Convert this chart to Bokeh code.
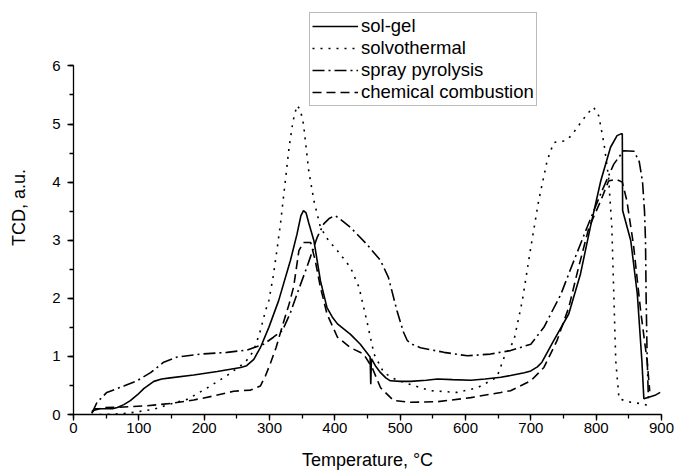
from bokeh.plotting import figure
from bokeh.models import Range1d, SingleIntervalTicker, Legend, LegendItem
from bokeh.embed import file_html
from bokeh.resources import INLINE

# ---- data ----
solgel_x = [28, 33, 46, 60, 67, 77, 87, 98, 108, 123, 135, 148, 184, 220, 256, 265, 276, 286, 299,
            314, 332, 342, 348, 352, 356, 360, 368, 378, 388, 396, 404, 424, 439, 454, 455, 456,
            462, 470, 478, 485, 500, 516, 540, 557, 580, 608, 630, 654, 669, 690, 700, 710, 717,
            735, 758, 776, 791, 807, 822, 832, 838, 840, 840.5, 853, 863, 870, 873, 878, 890, 898]
solgel_y = [0.03, 0.10, 0.10, 0.10, 0.12, 0.17, 0.24, 0.34, 0.45, 0.57, 0.61, 0.63, 0.68, 0.74, 0.81,
            0.84, 0.95, 1.15, 1.50, 1.96, 2.65, 3.10, 3.42, 3.51, 3.47, 3.30, 2.99, 2.30, 1.84, 1.68,
            1.56, 1.38, 1.21, 0.99, 0.52, 0.96, 0.84, 0.72, 0.63, 0.58, 0.57, 0.57, 0.59, 0.61, 0.60,
            0.59, 0.61, 0.64, 0.67, 0.72, 0.75, 0.82, 0.90, 1.27, 1.73, 2.42, 3.22, 4.02, 4.60, 4.80,
            4.83, 4.83, 3.51, 2.99, 2.07, 0.92, 0.27, 0.29, 0.33, 0.38]

solvo_x = [40, 50, 82, 123, 148, 174, 205, 235, 263, 276, 286, 294, 299, 306, 312, 317, 322, 330,
           336, 342, 347, 352, 356, 360, 368, 378, 390, 404, 424, 437, 449, 460, 475, 490, 506, 546,
           587, 618, 648, 659, 674, 687, 700, 712, 725, 735, 744, 753, 762, 771, 786, 796, 804, 812,
           819, 824, 827, 830, 835, 853, 873, 880]
solvo_y = [0.0, 0.0, 0.02, 0.09, 0.18, 0.26, 0.46, 0.67, 0.90, 1.10, 1.44, 1.79, 1.96, 2.40, 2.88,
           3.30, 3.80, 4.60, 5.05, 5.32, 5.25, 5.00, 4.60, 4.20, 3.68, 3.22, 3.00, 2.82, 2.53, 2.19,
           1.61, 1.04, 0.72, 0.62, 0.55, 0.41, 0.38, 0.46, 0.64, 0.98, 1.27, 1.96, 2.88, 3.68, 4.37,
           4.68, 4.70, 4.71, 4.80, 4.94, 5.17, 5.29, 5.14, 4.66, 4.08, 3.22, 2.07, 0.92, 0.27, 0.21,
           0.18, 0.15]

spray_x = [28, 36, 51, 77, 97, 118, 138, 159, 194, 235, 266, 291, 306, 319, 322, 332, 342, 357, 373,
           383, 392, 401, 412, 424, 449, 470, 482, 495, 505, 511, 520, 531, 567, 603, 638, 669, 700,
           720, 746, 766, 786, 807, 827, 842, 858, 866, 871, 874, 875.5, 876.5, 878, 880]
spray_y = [0.02, 0.21, 0.38, 0.49, 0.58, 0.72, 0.90, 0.99, 1.04, 1.07, 1.11, 1.21, 1.33, 1.44, 1.50,
           1.75, 2.07, 2.53, 3.05, 3.28, 3.38, 3.42, 3.33, 3.22, 2.93, 2.65, 2.36, 1.79, 1.42, 1.27,
           1.20, 1.15, 1.07, 1.01, 1.04, 1.10, 1.21, 1.50, 2.07, 2.65, 3.22, 3.80, 4.31, 4.54, 4.53,
           4.35, 4.00, 3.50, 3.00, 2.00, 1.00, 0.25]

comb_x = [28, 46, 77, 113, 148, 184, 215, 245, 271, 286, 294, 302, 310, 322, 330, 337, 345, 352, 363,
          370, 378, 388, 404, 424, 444, 457, 470, 490, 516, 557, 608, 654, 669, 700, 720, 740, 758,
          773, 789, 807, 819, 830, 840, 847, 857, 868, 878, 882]
comb_y = [0.06, 0.12, 0.13, 0.15, 0.19, 0.25, 0.32, 0.40, 0.42, 0.49, 0.67, 0.90, 1.15, 1.61, 1.90,
          2.20, 2.82, 2.96, 2.96, 2.65, 2.19, 1.73, 1.33, 1.15, 1.04, 0.81, 0.46, 0.24, 0.21, 0.22,
          0.29, 0.38, 0.41, 0.58, 0.81, 1.27, 1.84, 2.53, 3.22, 3.68, 4.02, 4.05, 4.00, 3.68, 2.93,
          1.79, 0.92, 0.40]

labels = ["sol-gel", "solvothermal", "spray pyrolysis", "chemical combustion"]
dashes = ["solid", "2 6", "12 4 2 4", "9 5"]

FONT = "Liberation Sans"

p = figure(width=678, height=476, output_backend="svg", toolbar_location=None,
           x_range=Range1d(0, 900), y_range=Range1d(0, 7.126),
           min_border_left=73, min_border_right=17, min_border_top=0, min_border_bottom=62)
p.outline_line_color = None
p.grid.visible = False
p.background_fill_color = "white"
p.border_fill_color = "white"

series = [(solgel_x, solgel_y), (solvo_x, solvo_y), (spray_x, spray_y), (comb_x, comb_y)]
items = []
for (xs, ys), lab, d in zip(series, labels, dashes):
    r = p.line(xs, ys, line_color="black", line_width=1.6, line_dash=d)
    items.append(LegendItem(label=lab, renderers=[r]))

p.xaxis.ticker = SingleIntervalTicker(interval=100, num_minor_ticks=2)
p.yaxis.ticker = SingleIntervalTicker(interval=1, num_minor_ticks=2)
p.yaxis.bounds = (0, 6)

for ax in (p.xaxis[0], p.yaxis[0]):
    ax.axis_line_color = "black"
    ax.axis_line_width = 1.3
    ax.major_tick_line_color = "black"
    ax.minor_tick_line_color = "black"
    ax.major_tick_line_width = 1.3
    ax.minor_tick_line_width = 1.3
    ax.major_tick_in = 0
    ax.major_tick_out = 6
    ax.minor_tick_in = 0
    ax.minor_tick_out = 4
    ax.major_label_text_font = FONT
    ax.major_label_text_font_size = "15px"
    ax.major_label_text_color = "black"
    ax.axis_label_text_font = FONT
    ax.axis_label_text_font_size = "18px"
    ax.axis_label_text_font_style = "normal"
    ax.axis_label_text_color = "black"

p.xaxis.axis_label = "Temperature, °C"
p.yaxis.axis_label = "TCD, a.u."
p.xaxis.major_label_standoff = 2
p.xaxis.axis_label_standoff = 14
p.yaxis.major_label_standoff = 7
p.yaxis.axis_label_standoff = 20

legend = Legend(items=items, location=(236, 308), margin=0, padding=2, spacing=0,
                glyph_width=46, glyph_height=20, label_height=20, label_standoff=3,
                label_text_font=FONT, label_text_font_size="18.5px", label_text_color="black",
                border_line_color="#777777", border_line_width=1,
                background_fill_color="white", background_fill_alpha=1.0)
p.add_layout(legend)

open("out.html", "w").write(file_html(p, INLINE))
